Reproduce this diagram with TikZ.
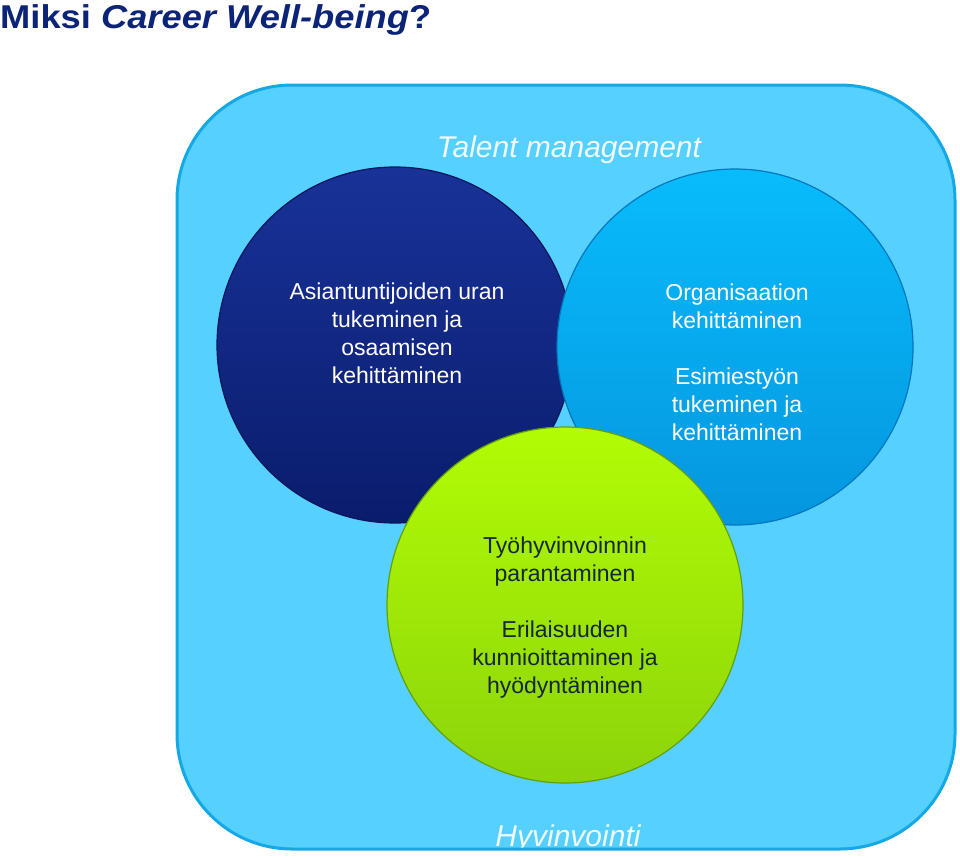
\documentclass[tikz,border=0pt]{standalone}
\usepackage{fontspec}
\setmainfont{Liberation Sans}
\definecolor{bgfill}{RGB}{85,208,255}
\definecolor{bgedge}{RGB}{20,168,228}
\definecolor{navyA}{RGB}{24,50,152}
\definecolor{navyB}{RGB}{10,28,108}
\definecolor{navyE}{RGB}{8,22,90}
\definecolor{skyA}{RGB}{8,188,252}
\definecolor{skyB}{RGB}{5,150,222}
\definecolor{skyE}{RGB}{0,120,190}
\definecolor{limeA}{RGB}{178,252,5}
\definecolor{limeB}{RGB}{140,212,10}
\definecolor{limeE}{RGB}{100,160,10}
\definecolor{titleblue}{RGB}{12,36,120}
\definecolor{darktext}{RGB}{22,38,55}
\definecolor{softwhite}{RGB}{240,250,255}
\begin{document}
\begin{tikzpicture}[x=1pt,y=-1pt,
  bubble/.style={circle, minimum size=356pt, inner sep=0pt, line width=1.2pt},
  wtext/.style={text=white, font=\fontsize{23}{28}\selectfont, align=center, inner sep=0pt},
  dtext/.style={text=darktext, font=\fontsize{23}{28}\selectfont, align=center, inner sep=0pt},
  label/.style={text=softwhite, font=\fontsize{30}{34}\selectfont\itshape, inner sep=0pt}]
\useasboundingbox (0,0) rectangle (960,857);
\node[anchor=base west, inner sep=0pt, text=titleblue, xscale=1.1,
  font=\fontsize{33}{36}\selectfont\bfseries] (title) at (0,28) {Miksi \textit{Career Well-being}?};
\fill[bgfill, rounded corners=115pt] (177,85) rectangle (955,849);
\node[label, anchor=base] (talent) at (569,157) {Talent management};
\node[label, anchor=base] (hyv) at (568,846) {Hyvinvointi};
\draw[draw=bgedge, line width=3pt, rounded corners=115pt] (177,85) rectangle (955,849);
\node[bubble, draw=navyE, top color=navyA, bottom color=navyB] (career) at (395,345) {};
\node[bubble, draw=skyE, top color=skyA, bottom color=skyB] (org) at (735,347) {};
\node[bubble, draw=limeE, top color=limeA, bottom color=limeB] (well) at (565,605) {};
\node[wtext] (careertxt) at (397,333) {Asiantuntijoiden uran\\tukeminen ja\\osaamisen\\kehittäminen};
\node[wtext] (orgtxt) at (737,362) {Organisaation\\kehittäminen\\[28pt]Esimiestyön\\tukeminen ja\\kehittäminen};
\node[dtext] (welltxt) at (565,618) {Työhyvinvoinnin\\parantaminen\\[28pt]Erilaisuuden\\kunnioittaminen ja\\hyödyntäminen};
\end{tikzpicture}
\end{document}
